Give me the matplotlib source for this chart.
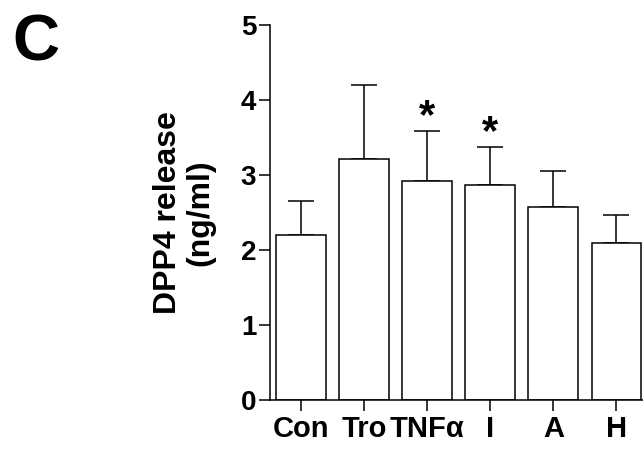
import matplotlib
matplotlib.use("Agg")
import matplotlib.pyplot as plt

plt.rcParams['font.family'] = ['Liberation Sans', 'DejaVu Sans']
plt.rcParams['font.weight'] = 'bold'

# 数据
groups = ['Con', 'Tro', 'TNF\u03b1', 'I', 'A', 'H']
means = [2.20, 3.21, 2.92, 2.86, 2.57, 2.09]
errs = [0.45, 0.99, 0.66, 0.51, 0.48, 0.37]
significant = [False, False, True, True, False, False]
y_ticks = [0, 1, 2, 3, 4, 5]

fig = plt.figure(figsize=(6.43, 4.49), dpi=100)
ax = fig.add_axes([0.42, 0.110, 0.58, 0.834])

x = list(range(len(groups)))
ax.bar(x, means, width=0.79, color='white', edgecolor='black', linewidth=1.1, zorder=2)
ax.errorbar(x, means, yerr=[[0] * len(errs), errs], fmt='none', ecolor='black',
            elinewidth=1.1, capsize=9.5, capthick=1.1, zorder=1)

# 显著性星号
for i, flag in enumerate(significant):
    if flag:
        ax.text(i, means[i] + errs[i] + 0.19, '*', ha='center', va='center',
                fontsize=30, fontweight='bold')

ax.set_xlim(-0.49, 5.42)
ax.set_ylim(0, 5)
ax.set_yticks(y_ticks)
ax.set_xticks(x)
ax.set_xticklabels(groups, fontsize=21, fontweight='bold')
ax.set_yticklabels([str(t) for t in y_ticks], fontsize=20, fontweight='bold')
ax.tick_params(axis='x', length=8, width=1.1, pad=3)
ax.tick_params(axis='y', length=8, width=1.1, pad=2)

ax.spines['top'].set_visible(False)
ax.spines['right'].set_visible(False)
ax.spines['left'].set_linewidth(1.1)
ax.spines['bottom'].set_linewidth(1.1)

ax.set_ylabel('DPP4 release\n(ng/ml)', fontsize=23, fontweight='bold',
              linespacing=1.1, labelpad=18)

fig.text(0.019, 0.866, 'C', fontsize=47, fontweight='bold', ha='left', va='baseline')

fig.savefig('out.png', dpi=100, facecolor='white')
